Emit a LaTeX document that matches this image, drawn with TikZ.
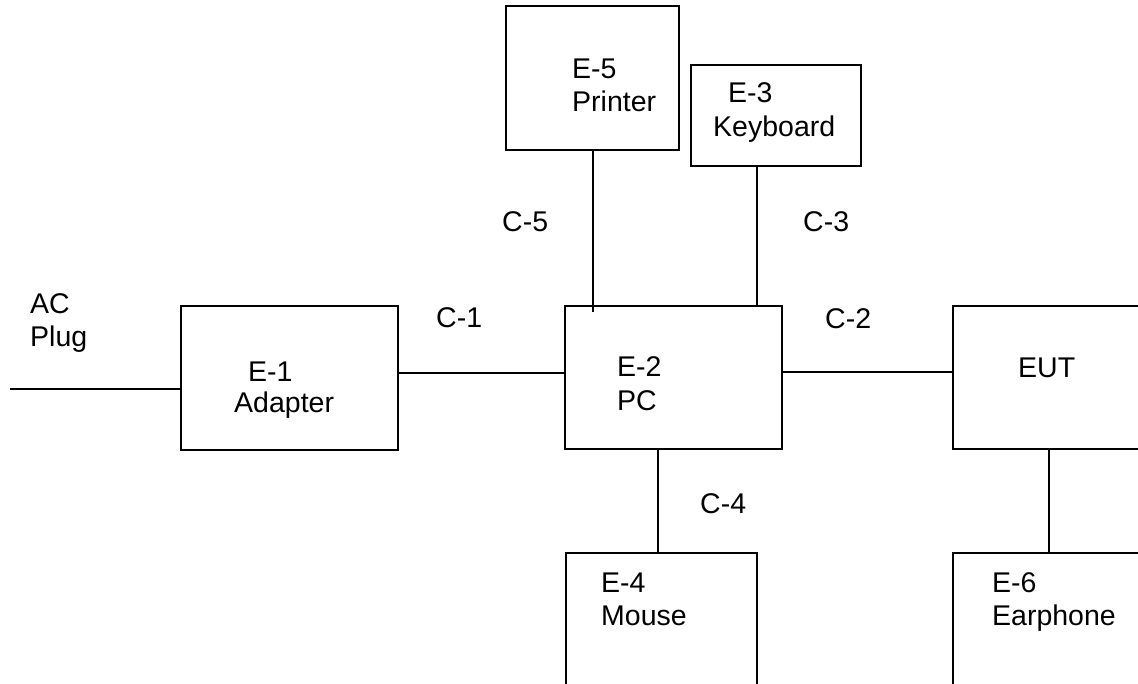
\documentclass[tikz,border=0pt]{standalone}
\usepackage{fontspec}
\setmainfont{Liberation Sans}
\begin{document}
\begin{tikzpicture}[x=1pt,y=-1pt,
  box/.style={draw=black,line width=1.6pt,rectangle,inner sep=0pt,fill=none},
  wire/.style={draw=black,line width=1.3pt},
  lbl/.style={anchor=base west,inner sep=0pt,font=\fontsize{28.5}{32}\selectfont}]
\useasboundingbox (0,0) rectangle (1138,684);
\clip (0,0) rectangle (1138,684);
% boxes
\node[box,minimum width=173pt,minimum height=144pt] (printer) at (592.5,78) {};
\node[box,minimum width=170pt,minimum height=101pt] (kb) at (776,115.5) {};
\node[box,minimum width=217pt,minimum height=144pt] (adapter) at (289.5,378) {};
\node[box,minimum width=217pt,minimum height=143pt] (pc) at (673.5,377.5) {};
\node[box,minimum width=210pt,minimum height=143pt] (eut) at (1058,377.5) {};
\node[box,minimum width=191pt,minimum height=160pt] (mouse) at (661.5,633) {};
\node[box,minimum width=210pt,minimum height=160pt] (ear) at (1058,633) {};
% texts
\node[lbl] (t5a) at (572,79) {E-5};
\node[lbl] (t5b) at (572,112) {Printer};
\node[lbl] (t3a) at (728,103) {E-3};
\node[lbl] (t3b) at (713,137) {Keyboard};
\node[lbl] (tac1) at (30,314) {AC};
\node[lbl] (tac2) at (30,347) {Plug};
\node[lbl] (t1a) at (248,382) {E-1};
\node[lbl] (t1b) at (234,413) {Adapter};
\node[lbl] (t2a) at (617,377) {E-2};
\node[lbl] (t2b) at (617,410) {PC};
\node[lbl] (teut) at (1018,378) {EUT};
\node[lbl] (t4a) at (601,592) {E-4};
\node[lbl] (t4b) at (601,625) {Mouse};
\node[lbl] (t6a) at (992,592) {E-6};
\node[lbl] (t6b) at (992,625) {Earphone};
\node[lbl] (c5) at (502,232) {C-5};
\node[lbl] (c3) at (803,232) {C-3};
\node[lbl] (c1) at (436,328) {C-1};
\node[lbl] (c2) at (825,329) {C-2};
\node[lbl] (c4) at (700,513) {C-4};
% helper coordinates
\coordinate (acstart) at (10,389);
\coordinate (kbx) at (757,0);
\coordinate (mx) at (658,0);
\coordinate (ex) at (1049,0);
\coordinate (c1y) at (0,373);
\coordinate (c2y) at (0,372);
\coordinate (pend) at (593,312);
% connectors
\draw[wire] (acstart) -- (acstart -| adapter.west);
\draw[wire] (c1y -| adapter.east) -- (c1y -| pc.west);
\draw[wire] (c2y -| pc.east) -- (c2y -| eut.west);
\draw[wire] (printer.south -| pend) -- (pend);
\draw[wire] (kbx |- kb.south) -- (kbx |- pc.north);
\draw[wire] (mx |- pc.south) -- (mx |- mouse.north);
\draw[wire] (ex |- eut.south) -- (ex |- ear.north);
\end{tikzpicture}
\end{document}
